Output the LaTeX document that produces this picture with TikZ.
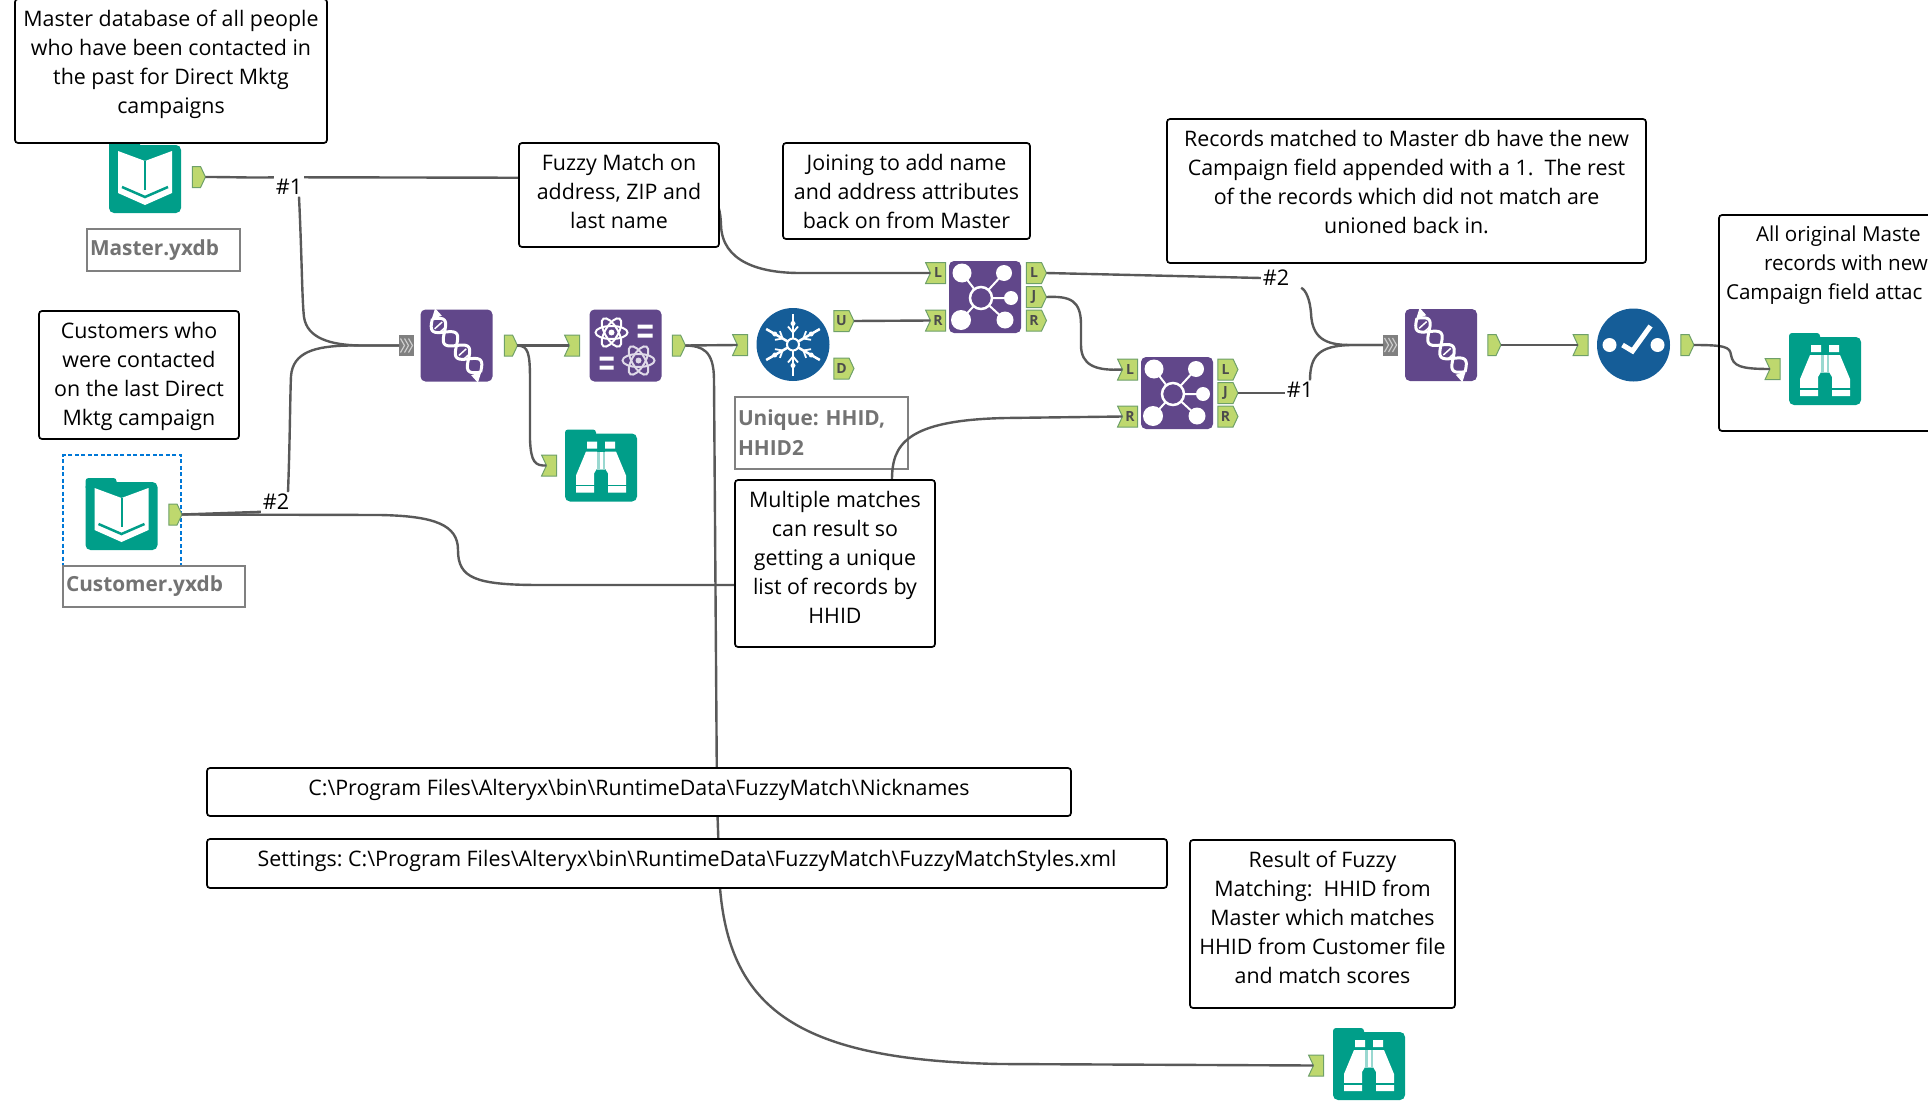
\documentclass[tikz,border=0pt]{standalone}
\usepackage{fontspec}
\setmainfont{Open Sans}
\frenchspacing
\usetikzlibrary{shapes.symbols}
\definecolor{toolteal}{RGB}{0,158,137}
\definecolor{toolpurple}{RGB}{97,71,138}
\definecolor{toolblue}{RGB}{21,93,152}
\definecolor{portgreen}{RGB}{190,216,110}
\definecolor{portedge}{RGB}{110,160,105}
\definecolor{selectblue}{RGB}{0,120,215}
\tikzset{
    wire/.style={line width=2.4pt, black!65},
    tool/.style={rectangle, rounded corners=5pt, minimum size=72, inner sep=0, outer sep=0},
    foldertool/.style={rectangle, rounded corners=5pt, minimum width=72, minimum height=68, inner sep=0, outer sep=0, fill=toolteal},
    roundtool/.style={circle, minimum size=73, inner sep=0, outer sep=0, fill=toolblue},
    outport/.style={signal, signal to=east, signal pointer angle=130, fill=portgreen, draw=portedge, line width=1pt,
        minimum width=13, minimum height=21, inner sep=0, outer sep=0,
        font=\fontsize{14}{14}\selectfont\bfseries, text=black!70},
    inport/.style={signal, signal from=west, signal to=nowhere, signal pointer angle=130, fill=portgreen, draw=portedge, line width=1pt,
        minimum width=15, minimum height=21, inner sep=0, outer sep=0,
        font=\fontsize{14}{14}\selectfont\bfseries, text=black!70},
    manyport/.style={rectangle, fill=black!50, minimum width=15, minimum height=21, inner sep=0, outer sep=0},
    notebg/.style={draw=black, line width=1.7pt, fill=white, rounded corners=3pt, inner sep=0, outer sep=0},
    notetext/.style={font=\fontsize{21.4}{29}\selectfont, align=center, inner sep=0, outer sep=0},
    filelabel/.style={draw=black!50, line width=1.7pt, fill=white, inner xsep=3pt, inner ysep=0, outer sep=0, align=left,
        font=\fontsize{20.8}{30}\selectfont\bfseries, text=black!55},
    hashlabel/.style={fill=white, inner sep=2pt, outer sep=0, font=\fontsize{21.6}{24}\selectfont}
}
\begin{document}
\begin{tikzpicture}[x=1pt, y=-1pt]
    \path[use as bounding box, clip] (0,0) rectangle (1928,1116);
    \newcommand{\notebox}[5]{
        \node[notebg, minimum width=#3, minimum height=#4] (#1) at (#2) {};
        \node[notetext, anchor=north] (#1text) at ([yshift=-11pt]#1.north) {#5};
    }
    \newcommand{\foldertab}[1]{
        \fill[toolteal, rounded corners=3pt] ([xshift=-36pt, yshift=4pt]#1.north) rectangle ([xshift=-5pt, yshift=-8pt]#1.north);
    }
    \newcommand{\bookglyph}[1]{
        \foldertab{#1}
        \begin{scope}[shift={(#1.center)}, yshift=2pt]
            \fill[white] (-27,-26) -- (0,-16) -- (27,-26) -- (27,16) -- (0,28) -- (-27,16) -- cycle;
            \draw[toolteal, line width=2pt] (0,-16) -- (0,13);
            \draw[toolteal, line width=2.5pt] (-23,10) -- (0,20) -- (23,10);
        \end{scope}
    }
    \newcommand{\browseglyph}[1]{
        \foldertab{#1}
        \begin{scope}[shift={(#1.center)}, yshift=2pt]
            \fill[white] (-14,-24) rectangle (-4,-17) (4,-24) rectangle (14,-17);
            \fill[white] (-15,-14) -- (-4,-14) -- (-4,3) -- (-7,8) -- (-7,27) -- (-25,27) -- (-25,10) -- cycle;
            \fill[white] (15,-14) -- (4,-14) -- (4,3) -- (7,8) -- (7,27) -- (25,27) -- (25,10) -- cycle;
            \fill[white!60!toolteal] (-4,-14) rectangle (4,4);
            \draw[toolteal, line width=1.5pt] (-26,20) -- (-6,20) (6,20) -- (26,20);
            \draw[white, line width=3pt] (0,-14) -- (0,3);
        \end{scope}
    }
    \newcommand{\unionglyph}[1]{
        \begin{scope}[shift={(#1.center)}, rotate=-48]
            \draw[white, line width=3pt] plot[domain=-36:36, samples=50, smooth] (\x, {8*sin(\x*10)});
            \draw[white, line width=3pt] plot[domain=-36:36, samples=50, smooth] (\x, {-8*sin(\x*10)});
            \foreach \r in {-27,-21,9,15} {
                \draw[white, line width=1.5pt] (\r,-5) -- (\r,5);
            }
            \fill[white] (-42,-9) -- (-32,-9) -- (-36,1) -- cycle;
            \fill[white] (42,9) -- (32,9) -- (36,-1) -- cycle;
        \end{scope}
    }
    \newcommand{\atomglyph}[3]{
        \begin{scope}[shift={(#1)}, shift={(#2)}]
            \foreach \a in {0,60,120} {
                \draw[#3, line width=2pt, rotate=\a] (0,0) ellipse (16 and 6.5);
            }
            \fill[#3] (0,0) circle (3);
        \end{scope}
    }
    \newcommand{\formulaglyph}[1]{
        \atomglyph{#1.center}{-14,-13}{white}
        \atomglyph{#1.center}{13,15}{white!80!toolpurple}
        \begin{scope}[shift={(#1.center)}]
            \fill[white] (12,-21) rectangle (27,-17) (12,-12) rectangle (27,-8);
            \fill[white] (-26,11) rectangle (-12,15) (-26,20) rectangle (-12,24);
        \end{scope}
    }
    \newcommand{\joinglyph}[1]{
        \begin{scope}[shift={(#1.center)}]
            \draw[white, line width=2pt] (-4,1) -- (-23,-24) (-4,1) -- (19,-24) (-4,1) -- (26,1) (-4,1) -- (-24,23) (-4,1) -- (20,23);
            \fill[white] (-23,-24) circle (9.5) (19,-24) circle (8) (26,1) circle (7) (-24,23) circle (10) (20,23) circle (8.5);
            \draw[white, line width=2.5pt, fill=toolpurple] (-4,1) circle (11);
        \end{scope}
    }
    \newcommand{\flakeglyph}[1]{
        \begin{scope}[shift={(#1.center)}]
            \foreach \a in {30,90,150,210,270,330} {
                \begin{scope}[rotate=\a]
                    \draw[white, line width=2.5pt] (6,0) -- (31,0);
                    \draw[white, line width=1.8pt] (12,0) -- (18,-5) (12,0) -- (18,5);
                    \fill[white] (21,0) circle (2.5);
                \end{scope}
            }
            \draw[white, line width=2pt] (0,0) circle (6);
        \end{scope}
    }
    \newcommand{\checkglyph}[1]{
        \begin{scope}[shift={(#1.center)}]
            \fill[white] (-24,0) circle (7) (24,0) circle (7);
            \draw[white, line width=5pt] (-11,0) -- (-1,6) -- (17,-19);
        \end{scope}
    }
    \newcommand{\chevrons}[1]{
        \foreach \d in {-4,0,4} {
            \draw[white!80!black, line width=1.2pt] ([xshift=\d pt]#1.center) ++(-2,-7) -- ++(4,7) -- ++(-4,7);
        }
    }
    % file labels and the selection frame
    \node[filelabel, text width=147, minimum height=42, anchor=north west] (masterLabel) at (87,229) {Master.yxdb};
    \node[draw=selectblue, line width=1.4pt, dash pattern=on 4pt off 2.5pt, minimum width=118, minimum height=111, inner sep=0] (customerFrame) at (122,510.5) {};
    \node[filelabel, text width=176, minimum height=41, anchor=north west] (customerLabel) at (63,566) {Customer.yxdb};
    \node[filelabel, text width=167, minimum height=72, anchor=north west] (uniqueLabel) at (735,397) {Unique: HHID,\\HHID2};
    % tools
    \node[foldertool] (masterIn) at (145,179) {};
    \bookglyph{masterIn}
    \node[foldertool] (customerIn) at (121.5,516) {};
    \bookglyph{customerIn}
    \node[tool, fill=toolpurple] (unionA) at (456.5,345.5) {};
    \unionglyph{unionA}
    \node[tool, fill=toolpurple] (formula) at (625.5,345.5) {};
    \formulaglyph{formula}
    \node[foldertool] (browseA) at (601,467.5) {};
    \browseglyph{browseA}
    \node[roundtool] (unique) at (793,344.5) {};
    \flakeglyph{unique}
    \node[tool, fill=toolpurple] (joinA) at (985,297) {};
    \joinglyph{joinA}
    \node[tool, fill=toolpurple] (joinB) at (1177,393) {};
    \joinglyph{joinB}
    \node[tool, fill=toolpurple] (unionB) at (1441,345) {};
    \unionglyph{unionB}
    \node[roundtool] (check) at (1633.5,345) {};
    \checkglyph{check}
    \node[foldertool] (browseB) at (1825,371) {};
    \browseglyph{browseB}
    \node[foldertool] (browseC) at (1369,1066) {};
    \browseglyph{browseC}
    % anchors
    \node[outport] (masterOut) at (196.5,177) {};
    \node[outport] (customerOut) at (173,514.5) {};
    \node[manyport] (unionAIn) at (406.5,345.5) {};
    \chevrons{unionAIn}
    \node[outport] (unionAOut) at (508.5,345.5) {};
    \node[inport] (formulaIn) at (574.5,345.5) {};
    \node[outport] (formulaOut) at (676.5,345.5) {};
    \node[inport] (browseAIn) at (551.5,465.5) {};
    \node[inport] (uniqueIn) at (742.5,345) {};
    \node[outport, minimum width=20] (uniqueU) at (841.5,321) {U};
    \node[outport, minimum width=20] (uniqueD) at (841.5,368.5) {D};
    \node[inport, minimum width=20] (joinAL) at (938,273) {L};
    \node[inport, minimum width=20] (joinAR) at (938,320.5) {R};
    \node[outport, minimum width=20] (joinAOutL) at (1034,273) {L};
    \node[outport, minimum width=20] (joinAOutJ) at (1034,297) {J};
    \node[outport, minimum width=20] (joinAOutR) at (1034,320.5) {R};
    \node[inport, minimum width=20] (joinBL) at (1130,369.5) {L};
    \node[inport, minimum width=20] (joinBR) at (1130,416.5) {R};
    \node[outport, minimum width=20] (joinBOutL) at (1225.5,369.5) {L};
    \node[outport, minimum width=20] (joinBOutJ) at (1225.5,393) {J};
    \node[outport, minimum width=20] (joinBOutR) at (1225.5,416.5) {R};
    \node[manyport] (unionBIn) at (1390.5,345) {};
    \chevrons{unionBIn}
    \node[outport] (unionBOut) at (1492,345) {};
    \node[inport] (checkIn) at (1583,345) {};
    \node[outport] (checkOut) at (1685,345) {};
    \node[inport] (browseBIn) at (1775,369) {};
    \node[inport] (browseCIn) at (1318.5,1065.5) {};
    % wire labels
    \node[hashlabel] (hashA) at (289,187) {\#1};
    \node[hashlabel] (hashB) at (276,502) {\#2};
    \node[hashlabel] (hashC) at (1276,278) {\#2};
    \node[hashlabel] (hashD) at (1300,390) {\#1};
    % wires
    \draw[wire] (masterOut.east) .. controls (235,177) and (255,178) .. (hashA.north west);
    \draw[wire] (hashA.north east) -- (640,178) .. controls (715,178) and (720,200) .. (721,225) .. controls (722,262) and (760,273) .. (800,273) -- (joinAL.west);
    \draw[wire] ([xshift=10pt]hashA.south) .. controls (302,260) and (302,300) .. (304,317) .. controls (307,338) and (330,345) .. (360,345.5) -- (unionAIn.west);
    \draw[wire] (customerOut.east) -- (hashB.south west);
    \draw[wire] ([xshift=12pt]hashB.north) .. controls (290,440) and (290,400) .. (291,376) .. controls (293,352) and (315,346) .. (350,345.5) -- (unionAIn.west);
    \draw[wire] (customerOut.east) -- (380,515) .. controls (435,516) and (458,525) .. (458,550) .. controls (458,578) and (475,585) .. (540,585) -- (735,585) -- (892,480) .. controls (892,445) and (905,420) .. (1006,418) -- (joinBR.west);
    \draw[wire] (unionAOut.east) -- (formulaIn.west);
    \draw[wire] (unionAOut.east) .. controls (528,346) and (530,352) .. (530,380) -- (530,440) .. controls (531,462) and (535,466) .. (browseAIn.west);
    \draw[wire] (formulaOut.east) -- (uniqueIn.west);
    \draw[wire] (formulaOut.east) .. controls (702,346) and (714,350) .. (714,380) -- (717,800) -- (720,888) .. controls (730,1010) and (800,1060) .. (1000,1064) -- (browseCIn.west);
    \draw[wire] (uniqueU.east) -- (joinAR.west);
    \draw[wire] (joinAOutL.east) -- (hashC.west);
    \draw[wire] (joinAOutJ.east) .. controls (1070,296) and (1081,300) .. (1081,325) -- (1081,345) .. controls (1081,365) and (1095,371) .. (joinBL.west);
    \draw[wire] (joinBOutJ.east) -- (joinBOutJ.east -| hashD.west);
    \draw[wire] ([xshift=10pt]hashC.south east) .. controls (1306,290) and (1310,300) .. (1311,313) .. controls (1312,338) and (1325,345) .. (1350,345) -- (unionBIn.west);
    \draw[wire] ([xshift=10pt]hashD.north) .. controls (1310,355) and (1320,346) .. (1350,345) -- (unionBIn.west);
    \draw[wire] (unionBOut.east) -- (checkIn.west);
    \draw[wire] (checkOut.east) .. controls (1725,345) and (1730,347) .. (1731,355) .. controls (1733,366) and (1740,369) .. (browseBIn.west);
    % comments
    \notebox{noteMaster}{171,71}{312}{144}{Master database of all people\\who have been contacted in\\the past for Direct Mktg\\campaigns}
    \notebox{noteFuzzy}{619,195}{200}{104}{Fuzzy Match on\\address, ZIP and\\last name}
    \notebox{noteJoin}{906.5,191}{247}{96}{Joining to add name\\and address attributes\\back on from Master}
    \notebox{noteRecords}{1406.5,191}{479}{144}{Records matched to Master db have the new\\Campaign field appended with a 1.~ The rest\\of the records which did not match are\\unioned back in.}
    \notebox{noteCustomers}{139,375}{200}{128}{Customers who\\were contacted\\on the last Direct\\Mktg campaign}
    \notebox{noteMultiple}{835,563.5}{200}{167}{Multiple matches\\can result so\\getting a unique\\list of records by\\HHID}
    \notebox{noteNick}{639,792}{864}{48}{C:\textbackslash Program Files\textbackslash Alteryx\textbackslash bin\textbackslash RuntimeData\textbackslash FuzzyMatch\textbackslash Nicknames}
    \notebox{noteSettings}{687,863.5}{960}{49}{Settings: C:\textbackslash Program Files\textbackslash Alteryx\textbackslash bin\textbackslash RuntimeData\textbackslash FuzzyMatch\textbackslash FuzzyMatchStyles.xml}
    \notebox{noteResult}{1322.5,924}{265}{168}{Result of Fuzzy\\Matching:~ HHID from\\Master which matches\\HHID from Customer file\\and match scores}
    % this one runs off the page
    \draw[black, line width=1.7pt, rounded corners=3pt] (1719,215) -- (1719,431) -- (1960,431) -- (1960,215) -- cycle;
    \node[notetext, font=\fontsize{20.6}{29}\selectfont, align=left, anchor=north west] (noteOriginal) at (1726,226) {\hspace*{30pt}All original Maste\\\hspace*{38pt}records with new\\Campaign field attac};
\end{tikzpicture}
\end{document}
